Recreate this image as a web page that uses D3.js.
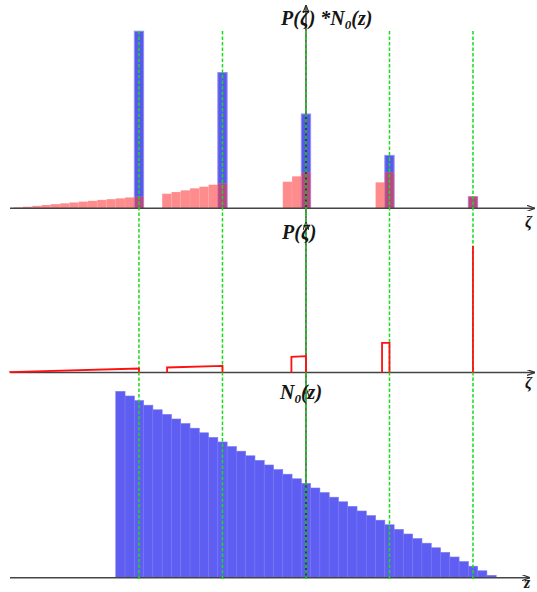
<!DOCTYPE html>
<html>
<head>
<meta charset="utf-8">
<script src="https://cdn.jsdelivr.net/npm/d3@7"></script>
<style>
  body { margin: 0; background: #fff; }
  .lbl { font-family: "Liberation Serif", "Times New Roman", serif; font-weight: bold; font-style: italic; fill: #151515; }
</style>
</head>
<body>
<div id="container"></div>
<script>
'use strict';

const width = 537,
      height = 592;

// N0(z): one bar per z bin, bins 0..40
const n0Values = [40.5, 39.5, 38.5, 37.5, 36.5, 35.5, 34.5, 33.5, 32.5, 31.5,
                  30.5, 29.5, 28.5, 27.5, 26.5, 25.5, 24.5, 23.5, 22.5, 21.5,
                  20.5, 19.5, 18.5, 17.5, 16.5, 15.5, 14.5, 13.5, 12.5, 11.5,
                  10.5, 9.5, 8.5, 7.5, 6.5, 5.5, 4.5, 3.5, 2.5, 1.5, 0.5];

// the bins picked out by the green guides
const guideBins = [2, 11, 20, 29, 38];
const guideN0 = [38.5, 29.5, 20.5, 11.5, 2.5];

// P(zeta)*N0(z) bins (red, top panel)
const pnBins = [-11, -10, -9, -8, -7, -6, -5, -4, -3, -2, -1, 0, 1, 2,
                5, 6, 7, 8, 9, 10, 11,
                18, 19, 20,
                28, 29,
                38];
const pnValues = [0.2, 0.35, 0.54, 0.72, 0.91, 1.09, 1.28, 1.46, 1.63, 1.83, 2.0, 2.17, 2.37, 2.54,
                  3.17, 3.54, 3.91, 4.35, 4.70, 5.13, 5.43,
                  5.78, 6.96, 7.74,
                  5.65, 7.83,
                  2.6];

// P(zeta): piecewise pieces, start / end zeta and height at each end
const pStart = [-11.4, 5.53, 18.93, 28.7, 38.5];
const pEnd = [2.5, 11.5, 20.5, 29.5, 38.5];
const pStartVal = [0.4, 5.0, 15.6, 29.6, 126];
const pEndVal = [4.0, 6.6, 16.3, 29.6, 126];

const baseTop = 208.3,
      baseMid = 372.5,
      baseBot = 577.7;

const svg = d3.select("#container")
  .append("svg")
  .attr("width", width)
  .attr("height", height);

const xScale = d3.scaleLinear()
  .domain([-11.4, 45.4])
  .range([10, 537]);

const yTop = d3.scaleLinear().domain([0, 40]).range([baseTop, baseTop - 184]);
const yMid = d3.scaleLinear().domain([0, 126]).range([baseMid, 246]);
const yBot = d3.scaleLinear().domain([0, 40]).range([baseBot, baseBot - 184]);

const x0 = xScale(20.5);

svg.append("defs").append("marker")
  .attr("id", "arr")
  .attr("viewBox", "0 0 8 6")
  .attr("refX", 8)
  .attr("refY", 3)
  .attr("markerUnits", "userSpaceOnUse")
  .attr("markerWidth", 8)
  .attr("markerHeight", 6)
  .attr("orient", "auto")
  .append("path")
  .attr("d", "M0,0 L8,3 L0,6")
  .attr("fill", "none")
  .attr("stroke", "#333")
  .attr("stroke-width", 1.2);

// bottom panel: N0(z)
svg.append("g")
  .selectAll("rect")
  .data(n0Values)
  .join("rect")
  .attr("x", (d, i) => xScale(i))
  .attr("width", (d, i) => xScale(i + 1) - xScale(i))
  .attr("y", d => yBot(d))
  .attr("height", d => baseBot - yBot(d))
  .attr("fill", "#5e5ef2")
  .attr("stroke", "#7676f4")
  .attr("stroke-width", 0.6);

// top panel: blue peaks then translucent red
svg.append("g")
  .selectAll("rect")
  .data(guideBins)
  .join("rect")
  .attr("x", d => xScale(d))
  .attr("width", d => xScale(d + 1) - xScale(d))
  .attr("y", (d, i) => yTop(guideN0[i]))
  .attr("height", (d, i) => baseTop - yTop(guideN0[i]))
  .attr("fill", "#5858ee")
  .attr("stroke", "#9090f4")
  .attr("stroke-width", 1);

svg.append("g")
  .selectAll("rect")
  .data(pnBins)
  .join("rect")
  .attr("x", d => xScale(d))
  .attr("width", d => xScale(d + 1) - xScale(d))
  .attr("y", (d, i) => yTop(pnValues[i]))
  .attr("height", (d, i) => baseTop - yTop(pnValues[i]))
  .attr("fill", "#ff3838")
  .attr("fill-opacity", 0.58)
  .attr("stroke", "#fff")
  .attr("stroke-opacity", 0.15)
  .attr("stroke-width", 0.6);

// horizontal axes
const axes = [
  {y: baseTop, end: 535},
  {y: baseMid, end: 535},
  {y: baseBot, end: 530}
];

svg.append("g")
  .selectAll("line")
  .data(axes)
  .join("line")
  .attr("x1", xScale(-11.4))
  .attr("x2", d => d.end)
  .attr("y1", d => d.y)
  .attr("y2", d => d.y)
  .attr("stroke", "#444")
  .attr("stroke-width", 1.4)
  .attr("marker-end", "url(#arr)");

// vertical axes (three stacked, all at zeta = 20.5)
const vAxes = [
  {from: 222, to: 5},
  {from: 388, to: 222},
  {from: baseBot, to: 388}
];

svg.append("g")
  .selectAll("line")
  .data(vAxes)
  .join("line")
  .attr("x1", x0)
  .attr("x2", x0)
  .attr("y1", d => d.from)
  .attr("y2", d => d.to)
  .attr("stroke", "#222")
  .attr("stroke-width", 1.3)
  .attr("marker-end", "url(#arr)");

// green guides
svg.append("g")
  .selectAll("line")
  .data(guideBins)
  .join("line")
  .attr("x1", d => xScale(d + 0.5))
  .attr("x2", d => xScale(d + 0.5))
  .attr("y1", 31)
  .attr("y2", baseBot + 2)
  .attr("stroke", "#18dc18")
  .attr("stroke-width", 1.5)
  .attr("stroke-dasharray", "3.5,2");

// middle panel: P(zeta) outlines, drawn over the guides
const pLine = d3.line()
  .x(d => xScale(d[0]))
  .y(d => yMid(d[1]));

svg.append("g")
  .selectAll("path")
  .data(pStart.map((s, i) => [[s, 0], [s, pStartVal[i]], [pEnd[i], pEndVal[i]], [pEnd[i], 0]]))
  .join("path")
  .attr("d", pLine)
  .attr("fill", "none")
  .attr("stroke", "#ff1010")
  .attr("stroke-width", 1.8);

// labels
const titles = [
  {x: 281, y: 25, parts: [["P(ζ) *N", 0], ["0", 1], ["(z)", 0]]},
  {x: 282, y: 239, parts: [["P(ζ)", 0]]},
  {x: 280, y: 399, parts: [["N", 0], ["0", 1], ["(z)", 0]]}
];

titles.forEach(t => {
  const text = svg.append("text")
    .attr("class", "lbl")
    .attr("x", t.x)
    .attr("y", t.y)
    .attr("font-size", 20);
  t.parts.forEach(p => {
    text.append("tspan")
      .attr("font-size", p[1] ? 13 : 20)
      .attr("dy", p[1] ? 4 : (text.selectAll("tspan").size() > 1 ? -4 : 0))
      .text(p[0]);
  });
});

const axisNames = [
  {x: 525, y: 227, t: "ζ"},
  {x: 525, y: 388, t: "ζ"},
  {x: 524, y: 588, t: "z"}
];

svg.append("g")
  .selectAll("text")
  .data(axisNames)
  .join("text")
  .attr("class", "lbl")
  .attr("x", d => d.x)
  .attr("y", d => d.y)
  .attr("font-size", 16)
  .text(d => d.t);
</script>
</body>
</html>
